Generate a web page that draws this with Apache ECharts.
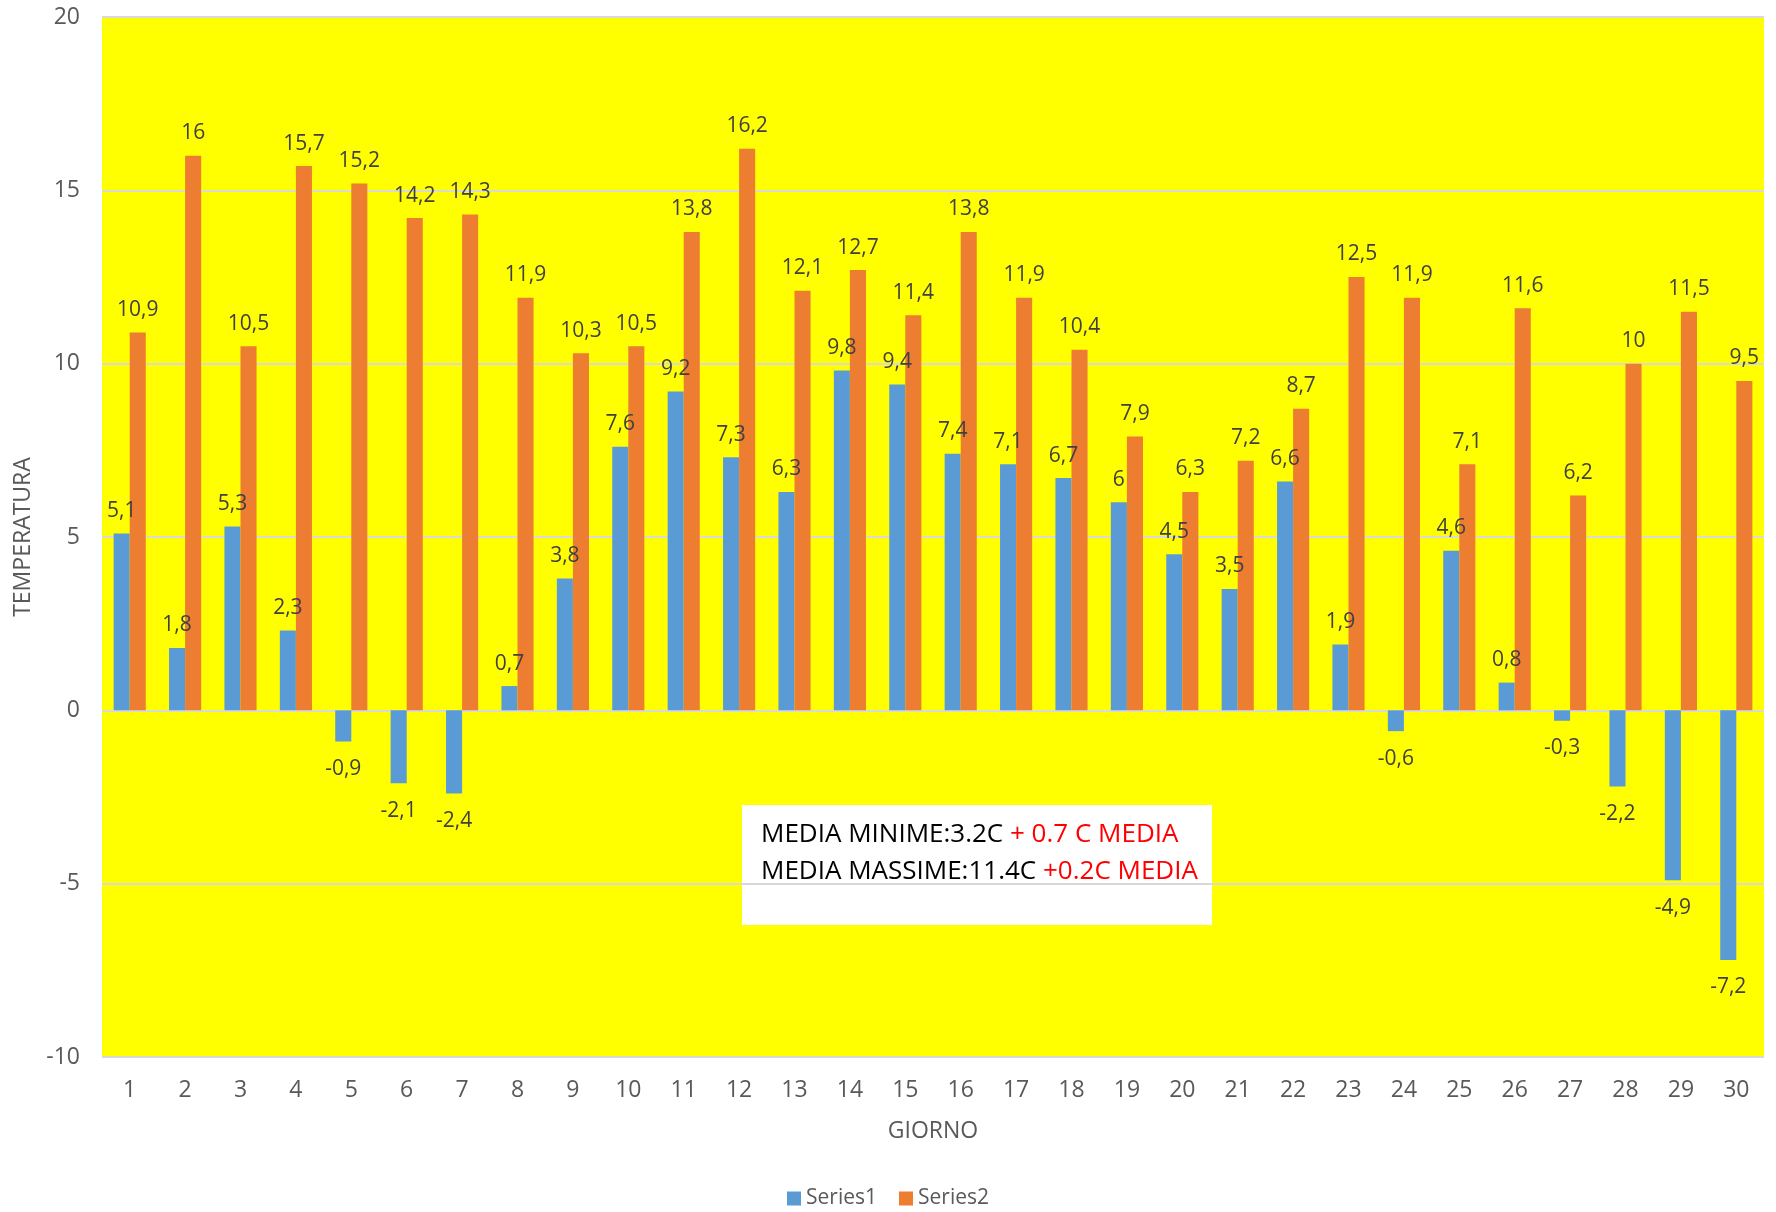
<!DOCTYPE html>
<html>
<head>
<meta charset="utf-8">
<script src="https://cdn.jsdelivr.net/npm/echarts@6/dist/echarts.min.js"></script>
<style>
  html, body { margin: 0; padding: 0; background: #fff; }
  #grafico { width: 1776px; height: 1212px; }
</style>
</head>
<body>
<div id="grafico"></div>
<script>
// Giorni del mese
const giorni = ['1','2','3','4','5','6','7','8','9','10','11','12','13','14','15','16','17','18','19','20','21','22','23','24','25','26','27','28','29','30'];

// Temperature minime (Series1) e massime (Series2)
const minime = [5.1, 1.8, 5.3, 2.3, -0.9, -2.1, -2.4, 0.7, 3.8, 7.6, 9.2, 7.3, 6.3, 9.8, 9.4, 7.4, 7.1, 6.7, 6, 4.5, 3.5, 6.6, 1.9, -0.6, 4.6, 0.8, -0.3, -2.2, -4.9, -7.2];
const massime = [10.9, 16, 10.5, 15.7, 15.2, 14.2, 14.3, 11.9, 10.3, 10.5, 13.8, 16.2, 12.1, 12.7, 11.4, 13.8, 11.9, 10.4, 7.9, 6.3, 7.2, 8.7, 12.5, 11.9, 7.1, 11.6, 6.2, 10, 11.5, 9.5];

const font = 'Open Sans';
const grigio = '#595959';

// Etichette sopra per i valori positivi, sotto per i negativi (come Excel)
function conEtichette(valori) {
    return valori.map(v => ({
        value: v,
        label: v < 0 ? { position: 'bottom', distance: 17 } : { position: 'top', distance: 12 }
    }));
}

const etichetta = {
    show: true, fontSize: 21, color: '#404040', fontFamily: font,
    formatter: p => String(p.value).replace('.', ',')
};

const myChart = echarts.init(document.getElementById('grafico'));

const option = {
    animation: false,
    textStyle: { fontFamily: font },
    grid: {
        left: 102, right: 12, top: 17, bottom: 155,
        outerBoundsMode: 'none',
        show: true, backgroundColor: '#ffff00', borderWidth: 0
    },
    legend: {
        top: 1183,
        left: 'center',
        itemWidth: 14, itemHeight: 14, itemGap: 22,
        icon: 'rect',
        textStyle: { fontFamily: font, fontSize: 21, color: grigio },
        data: ['Series1', 'Series2']
    },
    xAxis: {
        type: 'category',
        data: giorni,
        name: 'GIORNO',
        nameLocation: 'middle',
        nameGap: 63,
        nameTextStyle: { fontSize: 23, color: grigio, fontFamily: font },
        axisLine: { show: false },
        axisTick: { show: false },
        axisLabel: { fontSize: 23, color: grigio, margin: 22, fontFamily: font }
    },
    yAxis: {
        type: 'value',
        min: -10, max: 20, interval: 5,
        name: 'TEMPERATURA',
        nameLocation: 'middle',
        nameGap: 65,
        nameTextStyle: { fontSize: 23, color: grigio, fontFamily: font },
        axisLabel: { fontSize: 23, color: grigio, margin: 22, fontFamily: font },
        splitLine: { lineStyle: { color: '#d9d9d9', width: 2 } }
    },
    series: [
        {
            name: 'Series1',
            type: 'bar',
            data: conEtichette(minime),
            itemStyle: { color: '#5b9bd5' },
            barGap: '0%',
            barCategoryGap: '42%',
            label: etichetta
        },
        {
            name: 'Series2',
            type: 'bar',
            data: conEtichette(massime),
            itemStyle: { color: '#ed7d31' },
            label: etichetta
        }
    ],
    // Riquadro con le medie
    graphic: [{
        type: 'group',
        left: 742, top: 805,
        children: [
            {
                type: 'rect',
                shape: { x: 0, y: 0, width: 470, height: 120 },
                style: { fill: '#ffffff' }
            },
            {
                type: 'text',
                x: 19, y: 11,
                style: {
                    text: '{n|MEDIA MINIME:3.2C }{r|+ 0.7 C MEDIA}\n{n|MEDIA MASSIME:11.4C }{r|+0.2C MEDIA}',
                    rich: {
                        n: { fontSize: 26, fontFamily: font, fill: '#000000', lineHeight: 37 },
                        r: { fontSize: 26, fontFamily: font, fill: '#ff0000', lineHeight: 37 }
                    }
                }
            }
        ]
    }]
};

myChart.setOption(option);
</script>
</body>
</html>
